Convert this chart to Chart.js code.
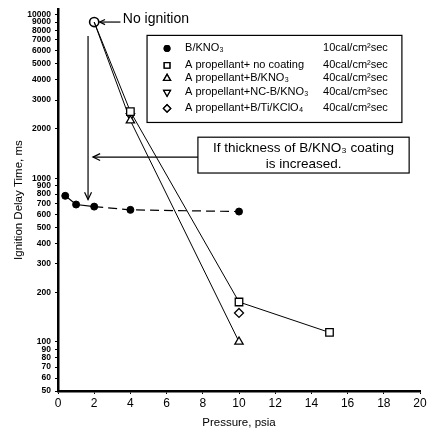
<!DOCTYPE html>
<html>
<head>
<meta charset="utf-8">
<script src="https://cdn.jsdelivr.net/npm/chart.js@4/dist/chart.umd.min.js"></script>
<style>
  body { margin: 0; background: #fff; }
  #wrap { width: 430px; height: 433px; }
</style>
</head>
<body>
<div id="wrap"><canvas id="chart" width="430" height="433"></canvas></div>
<script>
// values (pressure in psia, delay in ms)
const pressureBKNO3 = [0.4, 1, 2, 4, 10];
const delayBKNO3 = [780, 690, 670, 640, 625];

const pressureNoCoat = [2, 4, 10, 15];
const delayNoCoat = [9000, 2550, 175, 114];

const pressureBKNO3Coat = [2, 4, 10];
const delayBKNO3Coat = [9000, 2250, 100];

const pressureNCCoat = [4];
const delayNCCoat = [2400];

const pressureBTiCoat = [10];
const delayBTiCoat = [150];

const pressureNoIgnition = [2];
const delayNoIgnition = [9000];

const seriesLabels = ['B/KNO₃', 'A propellant+ no coating', 'A propellant+B/KNO₃',
  'A propellant+NC-B/KNO₃', 'A propellant+B/Ti/KClO₄'];
const heatFlux = ['10cal/cm²sec', '40cal/cm²sec', '40cal/cm²sec', '40cal/cm²sec', '40cal/cm²sec'];

const xTicks = [0, 2, 4, 6, 8, 10, 12, 14, 16, 18, 20];
const yTicks = [50, 60, 70, 80, 90, 100, 200, 300, 400, 500, 600, 700, 800, 900,
  1000, 2000, 3000, 4000, 5000, 6000, 7000, 8000, 9000, 10000];

const FONT = '"Liberation Sans", Arial, "DejaVu Sans", sans-serif';

function pts(xs, ys) {
  return xs.map((v, i) => ({ x: v, y: ys[i] }));
}

const datasets = [
  {
    label: seriesLabels[0], data: pts(pressureBKNO3, delayBKNO3),
    borderColor: '#000', borderWidth: 1.2, backgroundColor: '#000',
    pointStyle: 'circle', pointRadius: 3.5, pointBorderWidth: 1,
    segment: { borderDash: ctx => ctx.p0DataIndex >= 2 ? [9, 5] : [] },
    legendFlux: heatFlux[0]
  },
  {
    label: seriesLabels[1], data: pts(pressureNoCoat, delayNoCoat),
    borderColor: '#000', borderWidth: 1, backgroundColor: '#fff',
    pointStyle: 'rect', pointRadius: ctx => ctx.dataIndex === 0 ? 0 : 5.3, pointBorderWidth: 1.3,
    legendFlux: heatFlux[1]
  },
  {
    label: seriesLabels[2], data: pts(pressureBKNO3Coat, delayBKNO3Coat),
    borderColor: '#000', borderWidth: 1, backgroundColor: '#fff',
    pointStyle: 'triangle', pointRadius: ctx => ctx.dataIndex === 0 ? 0 : 4.8, pointBorderWidth: 1.3,
    legendFlux: heatFlux[2]
  },
  {
    label: seriesLabels[3], data: pts(pressureNCCoat, delayNCCoat),
    borderColor: '#000', backgroundColor: '#fff', showLine: false,
    pointStyle: 'triangle', pointRotation: 180, pointRadius: 4.8, pointBorderWidth: 1.3,
    legendFlux: heatFlux[3]
  },
  {
    label: seriesLabels[4], data: pts(pressureBTiCoat, delayBTiCoat),
    borderColor: '#000', backgroundColor: '#fff', showLine: false,
    pointStyle: 'rectRot', pointRadius: 4.5, pointBorderWidth: 1.3,
    legendFlux: heatFlux[4]
  },
  {
    label: 'No ignition', data: pts(pressureNoIgnition, delayNoIgnition),
    borderColor: '#000', backgroundColor: '#fff', showLine: false,
    pointStyle: 'circle', pointRadius: 4.6, pointBorderWidth: 1.6,
    noLegend: true
  }
];

function arrowHead(ctx, x, y, angle, size) {
  ctx.beginPath();
  ctx.moveTo(x + Math.cos(angle + 0.45) * size, y + Math.sin(angle + 0.45) * size);
  ctx.lineTo(x, y);
  ctx.lineTo(x + Math.cos(angle - 0.45) * size, y + Math.sin(angle - 0.45) * size);
  ctx.stroke();
}

// legend box, callout box and arrows
const annotations = {
  id: 'annotations',
  afterDatasetsDraw(chart) {
    const { ctx, scales: { x, y } } = chart;
    ctx.save();
    ctx.strokeStyle = '#000';
    ctx.fillStyle = '#000';
    ctx.lineWidth = 1.2;

    // "No ignition" pointer
    const ny = y.getPixelForValue(9000);
    const nx0 = x.getPixelForValue(2.3), nx1 = x.getPixelForValue(3.45);
    ctx.beginPath(); ctx.moveTo(nx0, ny); ctx.lineTo(nx1, ny); ctx.stroke();
    arrowHead(ctx, nx0, ny, 0, 6);
    ctx.font = '14px ' + FONT;
    ctx.textBaseline = 'middle';
    ctx.textAlign = 'left';
    ctx.fillText('No ignition', x.getPixelForValue(3.58), ny - 3);

    // vertical arrow
    const vx = x.getPixelForValue(1.66);
    const vy0 = y.getPixelForValue(7400), vy1 = y.getPixelForValue(740);
    ctx.beginPath(); ctx.moveTo(vx, vy0); ctx.lineTo(vx, vy1); ctx.stroke();
    arrowHead(ctx, vx, vy1, -Math.PI / 2, 8);

    // callout box
    const bx0 = x.getPixelForValue(7.73), bx1 = x.getPixelForValue(19.4);
    const by0 = y.getPixelForValue(1780), by1 = y.getPixelForValue(1075);
    ctx.strokeRect(bx0, by0, bx1 - bx0, by1 - by0);
    const hy = y.getPixelForValue(1345);
    const hx1 = x.getPixelForValue(1.93);
    ctx.beginPath(); ctx.moveTo(bx0, hy); ctx.lineTo(hx1, hy); ctx.stroke();
    arrowHead(ctx, hx1, hy, 0, 8);
    ctx.font = '13.5px ' + FONT;
    ctx.textAlign = 'center';
    const cx = (bx0 + bx1) / 2;
    ctx.fillText('If thickness of B/KNO₃ coating', cx, by0 + 11);
    ctx.fillText('is increased.', cx, by0 + 27);

    // legend
    const lx0 = x.getPixelForValue(4.92), lx1 = x.getPixelForValue(19.0);
    const ly0 = y.getPixelForValue(7460), ly1 = y.getPixelForValue(2190);
    ctx.strokeRect(lx0, ly0, lx1 - lx0, ly1 - ly0);
    const rows = [13, 30, 43, 57, 73];
    ctx.font = '11px ' + FONT;
    ctx.textAlign = 'left';
    let r = 0;
    chart.data.datasets.forEach(ds => {
      if (ds.noLegend) return;
      const ry = ly0 + rows[r++];
      const rad = (typeof ds.pointRadius === 'function' ? 5 : ds.pointRadius) * 0.8;
      ctx.lineWidth = 1.3;
      ctx.fillStyle = ds.backgroundColor;
      if (Chart.helpers && Chart.helpers.drawPoint) {
        Chart.helpers.drawPoint(ctx, { pointStyle: ds.pointStyle, rotation: ds.pointRotation || 0,
          radius: rad, borderWidth: 1.3 }, lx0 + 20, ry);
        ctx.fill(); ctx.stroke();
      }
      ctx.fillStyle = '#000';
      ctx.fillText(ds.label, lx0 + 38, ry);
      ctx.fillText(ds.legendFlux, lx0 + 176, ry);
    });
    ctx.restore();
  }
};

new Chart(document.getElementById('chart'), {
  type: 'line',
  data: { datasets },
  plugins: [annotations],
  options: {
    responsive: false,
    animation: false,
    layout: { padding: { top: 5, right: 10, left: 0, bottom: 0 } },
    plugins: { legend: { display: false }, tooltip: { enabled: false } },
    scales: {
      x: {
        type: 'linear', min: 0, max: 20,
        afterBuildTicks: s => { s.ticks = xTicks.map(v => ({ value: v })); },
        afterFit: s => { s.height = 42; },
        border: { color: '#000', width: 2.5 },
        grid: { drawOnChartArea: false, color: '#000', tickLength: 3, tickWidth: 1 },
        ticks: { color: '#000', font: { family: FONT, size: 12 }, padding: 2, maxRotation: 0 },
        title: { display: true, text: 'Pressure, psia', color: '#000',
          font: { family: FONT, size: 11.5 }, padding: { top: 0, bottom: 3 } }
      },
      y: {
        type: 'logarithmic', min: 50, max: 10800,
        afterBuildTicks: s => { s.ticks = yTicks.map(v => ({ value: v })); },
        afterFit: s => { s.width = 58; },
        border: { color: '#000', width: 2.5 },
        grid: { drawOnChartArea: false, color: '#000', tickLength: 3, tickWidth: 1 },
        ticks: { color: '#000', autoSkip: false, padding: 4,
          font: { family: FONT, size: 8.5, weight: 'bold' },
          callback: v => String(v) },
        title: { display: true, text: 'Ignition Delay Time, ms', color: '#000',
          font: { family: FONT, size: 11.5 }, padding: { top: 12, bottom: 0 } }
      }
    }
  }
});
</script>
</body>
</html>
